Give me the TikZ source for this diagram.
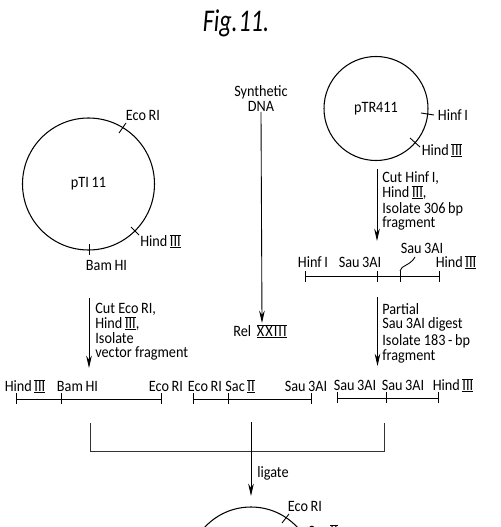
\documentclass[tikz,border=0pt]{standalone}
\usepackage{fontspec}
\setmainfont[FakeStretch=0.9]{Carlito}
\newfontfamily\titlefont[FakeStretch=0.76]{Carlito}
\newcommand{\rnum}[1]{\leavevmode\lower0.7pt\vbox{\hrule height 0.4pt\kern0.1pt\hbox{#1}\kern0.15pt\hrule height 0.4pt}}
\usetikzlibrary{arrows.meta}
\tikzset{
    map ring/.style={circle, draw=black, line width=0.6pt, inner sep=0pt, font=\small},
    map site/.style={draw=black, line width=0.5pt},
    map line/.style={draw=black, line width=0.5pt},
    map label/.style={font=\small, inner sep=0pt, text height=6pt, text depth=0.3pt},
    map step/.style={map label, anchor=west},
    map arrow/.style={-{Stealth[length=7pt, width=3.2pt]}, draw=black, line width=0.5pt},
    map join/.style={draw=black!80, line width=0.5pt},
}
\begin{document}
\begin{tikzpicture}[x=0.02cm, y=-0.02cm]
    \clip (0,0) rectangle (500,527);
    \node[font=\titlefont\itshape\fontsize{18}{20}\selectfont, inner sep=0pt] (title) at (236,23) {Fig.\kern0.5pt 11.};
    % Plasmid pTI11
    \node[map ring, minimum size=132*0.02cm] (pti) at (88.5,184) {pTI\,11};
    \coordinate (ptiE1) at (119,133);
    \coordinate (ptiE2) at (126,123);
    \coordinate (ptiH1) at (131,227);
    \coordinate (ptiH2) at (139,235);
    \coordinate (ptiB1) at (89,244);
    \coordinate (ptiB2) at (89,255);
    \draw[map site] (ptiE1) -- (ptiE2);
    \draw[map site] (ptiH1) -- (ptiH2);
    \draw[map site] (ptiB1) -- (ptiB2);
    \node[map label] (ptiEco) at (143,115) {Eco\,RI};
    \node[map label] (ptiHind) at (160.5,241) {Hind\,\rnum{III}};
    \node[map label] (ptiBam) at (106.5,265) {Bam\,HI};
    % Plasmid pTR411
    \node[map ring, minimum size=104*0.02cm] (ptr) at (376,108.5) {pTR411};
    \coordinate (ptrF1) at (421,113);
    \coordinate (ptrF2) at (434,115);
    \coordinate (ptrH1) at (410,138);
    \coordinate (ptrH2) at (420,147);
    \draw[map site] (ptrF1) -- (ptrF2);
    \draw[map site] (ptrH1) -- (ptrH2);
    \node[map label] (ptrHinf) at (453,115) {Hinf\,I};
    \node[map label] (ptrHind) at (442,150) {Hind\,\rnum{III}};
    % Synthetic DNA
    \node[map label] (syn) at (261,91) {Synthetic};
    \node[map label] (dna) at (261,106) {DNA};
    \node[map label] (rel) at (260,331) {Rel\ \,\rnum{X\kern0.6pt X\kern0.6pt I\kern0.6pt I\kern0.6pt I}};
    \coordinate (synEnd) at (262,323);
    \draw[map arrow] (dna.south) -- (synEnd);
    % Steps from the plasmids
    \coordinate (cutA1) at (377,169);
    \coordinate (cutA2) at (377,241);
    \draw[map arrow] (cutA1) -- (cutA2);
    \node[map step] (cutA) at (382,177) {Cut Hinf\,I,};
    \node[map step] (cutB) at (382,192) {Hind\,\rnum{III},};
    \node[map step] (cutC) at (382,208) {Isolate 306\,bp};
    \node[map step] (cutD) at (382,222) {fragment};
    \coordinate (cutE1) at (89,298);
    \coordinate (cutE2) at (89,368);
    \draw[map arrow] (cutE1) -- (cutE2);
    \node[map step] (cutF) at (95,308) {Cut Eco\,RI,};
    \node[map step] (cutG) at (95,323) {Hind\,\rnum{III},};
    \node[map step] (cutH) at (95,338) {Isolate};
    \node[map step] (cutI) at (95,352) {vector fragment};
    \coordinate (parA) at (377.5,297);
    \coordinate (parB) at (377.5,366);
    \draw[map arrow] (parA) -- (parB);
    \node[map step] (parC) at (382,309) {Partial};
    \node[map step] (parD) at (382,323) {Sau\,3AI\ digest};
    \node[map step] (parE) at (382,340) {Isolate\ 183\,-\,bp};
    \node[map step] (parF) at (382,355) {fragment};
    % Fragment from pTR411
    \coordinate (fa0) at (305,276);
    \coordinate (fa3) at (439,276);
    \coordinate (faTop) at (400,271);
    \coordinate (faCurve) at (415,257);
    \draw[map line] (fa0) -- (fa3);
    \draw[map site] (305,271) -- (305,282);
    \draw[map site] (377,271) -- (377,282);
    \draw[map site] (400,282) -- (faTop);
    \draw[map site] (439,271) -- (439,282);
    \node[map label] (faHinf) at (313,262) {Hinf\,I};
    \node[map label] (faSauA) at (360,262) {Sau\,3AI};
    \node[map label] (faSauB) at (422,248) {Sau\,3AI};
    \node[map label] (faHind) at (456,262) {Hind\,\rnum{III}};
    \draw[map site] (faTop) .. controls (401,265) and (410,266) .. (faCurve);
    % Bottom row, left fragment
    \coordinate (fb0) at (16,399);
    \coordinate (fb2) at (161,399);
    \draw[map line] (fb0) -- (fb2);
    \draw[map site] (16,393) -- (16,404);
    \draw[map site] (61,393) -- (61,404);
    \draw[map site] (161,393) -- (161,404);
    \node[map label] (fbHind) at (25,386) {Hind\,\rnum{III}};
    \node[map label] (fbBam) at (77.5,386) {Bam\,HI};
    \node[map label] (fbEco) at (166,386) {Eco\,RI};
    % Bottom row, middle fragment
    \coordinate (fc0) at (193,399);
    \coordinate (fc2) at (311.5,399);
    \draw[map line] (fc0) -- (fc2);
    \draw[map site] (193,393) -- (193,404);
    \draw[map site] (228,393) -- (228,404);
    \draw[map site] (311.5,393) -- (311.5,404);
    \node[map label] (fcEco) at (205,386) {Eco\,RI};
    \node[map label] (fcSac) at (240,386) {Sac\,\rnum{II}};
    \node[map label] (fcSau) at (306,386) {Sau\,3AI};
    % Bottom row, right fragment
    \coordinate (fd0) at (337,398);
    \coordinate (fd2) at (438,398);
    \draw[map line] (fd0) -- (fd2);
    \draw[map site] (337,392) -- (337,403);
    \draw[map site] (386,392) -- (386,403);
    \draw[map site] (438,392) -- (438,403);
    \node[map label] (fdSauA) at (355,385) {Sau\,3AI};
    \node[map label] (fdSauB) at (403,385) {Sau\,3AI};
    \node[map label] (fdHind) at (453,385) {Hind\,\rnum{III}};
    % Ligation
    \coordinate (joinL) at (90,423);
    \coordinate (joinLB) at (90,451);
    \coordinate (joinRB) at (384,451);
    \coordinate (joinR) at (384,423);
    \coordinate (joinT) at (251,422);
    \coordinate (joinB) at (251,496);
    \draw[map join] (joinL) -- (joinLB) -- (joinRB) -- (joinR);
    \draw[map arrow] (joinT) -- (joinB);
    \node[map label] (lig) at (273,472) {ligate};
    % Product plasmid, cut by the page
    \node[map ring, minimum size=126*0.02cm] (prod) at (251,570) {};
    \coordinate (prodE1) at (282,523);
    \coordinate (prodE2) at (289,514);
    \draw[map site] (prodE1) -- (prodE2);
    \node[map label] (prodEco) at (305,506) {Eco\,RI};
    \node[map label] (prodSac) at (323,531) {Sac\,\rnum{II}};
\end{tikzpicture}
\end{document}
